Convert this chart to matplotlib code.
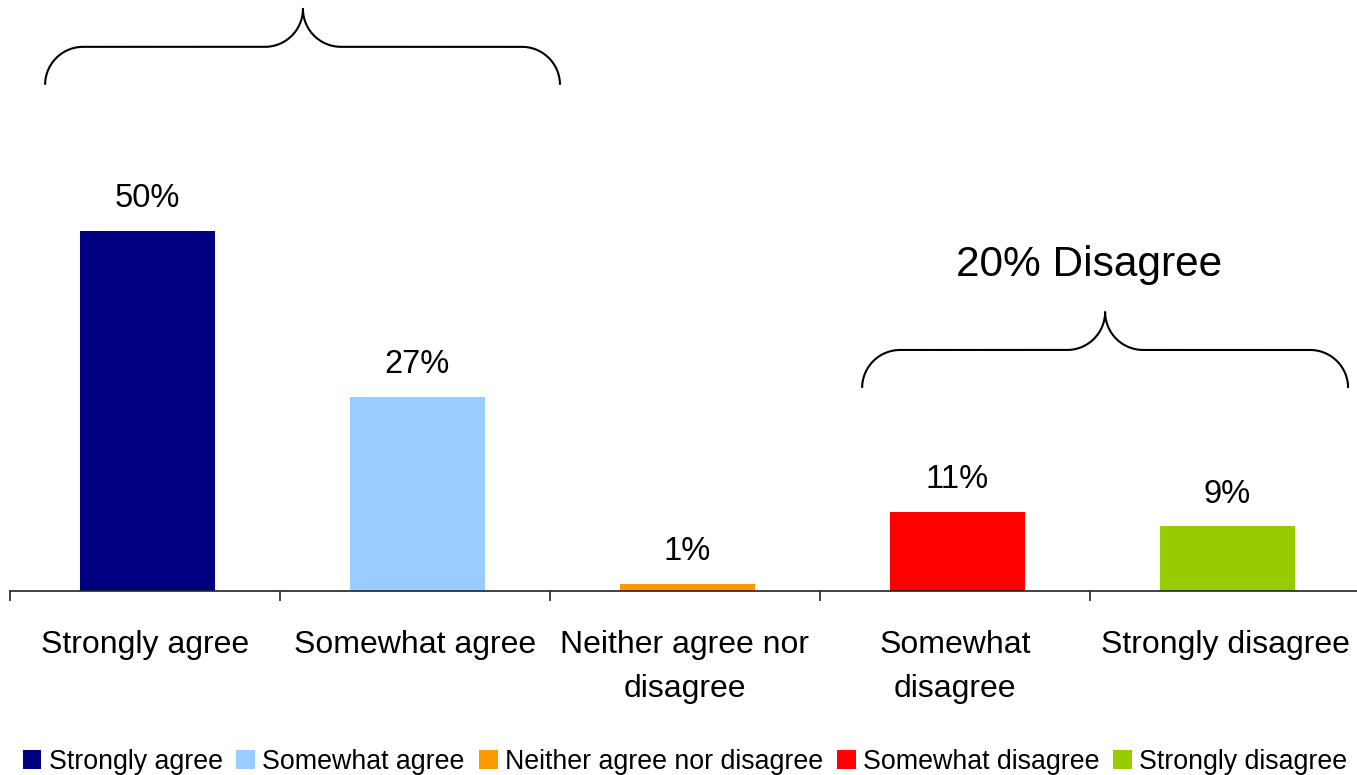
import numpy as np
import matplotlib
matplotlib.use("Agg")
import matplotlib.pyplot as plt
from matplotlib.patches import Patch

plt.rcParams['font.family'] = ['Liberation Sans', 'DejaVu Sans']

categories = ["Strongly agree", "Somewhat agree", "Neither agree nor\ndisagree",
              "Somewhat\ndisagree", "Strongly disagree"]
legend_labels = ["Strongly agree", "Somewhat agree", "Neither agree nor disagree",
                 "Somewhat disagree", "Strongly disagree"]
values = [50, 27, 1, 11, 9]
colors = ["#000080", "#99CCFF", "#FF9900", "#FF0000", "#99CC00"]
group_label = "20% Disagree"

W, H = 1357, 775
fig = plt.figure(figsize=(W / 100, H / 100), dpi=100)
ax_left, ax_bottom, ax_w, ax_h = 10, 591, 1350, 591
ax = fig.add_axes([ax_left / W, (H - ax_bottom) / H, ax_w / W, ax_h / H])
px_per_unit_y = 7.2
ax.set_xlim(-0.5, 4.5)
ax.set_ylim(0, ax_h / px_per_unit_y)

x = np.arange(len(values))
ax.bar(x + 0.008, values, width=0.5, color=colors, zorder=2)

for xi, v in zip(x, values):
    ax.annotate(f"{v}%", (xi + 0.008, v), xytext=(0, 17), textcoords="offset points",
                ha="center", va="baseline", fontsize=23.5)

for s in ["top", "right", "left"]:
    ax.spines[s].set_visible(False)
ax.spines["bottom"].set_linewidth(1.2)
ax.spines["bottom"].set_color("#222222")
ax.set_yticks([])
ax.set_xticks(x)
ax.set_xticklabels(categories, fontsize=23, linespacing=1.6)
ax.tick_params(axis="x", which="major", length=0, pad=28)
ax.set_xticks(np.arange(-0.5, len(values) + 0.5, 1.0), minor=True)
ax.tick_params(axis="x", which="minor", length=7.5, width=1.2, color="#222222", direction="out")

# braces (decoration), sized in pixels
px_x = ax_w / 5.0  # pixels per category


def brace(xl, xr, xc, y_end, r_px=38):
    rx = r_px / px_x
    ry = r_px / px_per_unit_y
    yh = y_end + ry
    t = np.linspace(0, np.pi / 2, 40)
    a1x = xl + rx - rx * np.cos(t)
    a1y = yh - ry + ry * np.sin(t)
    a2x = xc - rx + rx * np.sin(t)
    a2y = yh + ry - ry * np.cos(t)
    a3x = xc + rx - rx * np.sin(t[::-1])
    a3y = yh + ry - ry * np.cos(t[::-1])
    a4x = xr - rx + rx * np.sin(t)
    a4y = yh - ry + ry * np.cos(t)
    bx = np.concatenate([a1x, a2x, a3x, a4x])
    by = np.concatenate([a1y, a2y, a3y, a4y])
    ax.plot(bx, by, color="black", lw=1.5, clip_on=False, solid_capstyle="butt", zorder=3)


brace(-0.37, 1.537, 0.585, 70.3)
brace(2.656, 4.456, 3.556, 28.2)

ax.text(3.496, 45.3, group_label, ha="center", va="center", fontsize=30.5)

handles = [Patch(facecolor=c, edgecolor="none") for c in colors]
fig.legend(handles, legend_labels, loc="center", bbox_to_anchor=(685 / W, 1 - 762 / H),
           ncol=5, frameon=False, fontsize=19.3, handlelength=0.7, handleheight=0.7,
           handletextpad=0.27, columnspacing=0.52, borderaxespad=0, borderpad=0)

fig.savefig("out.png", dpi=100)
